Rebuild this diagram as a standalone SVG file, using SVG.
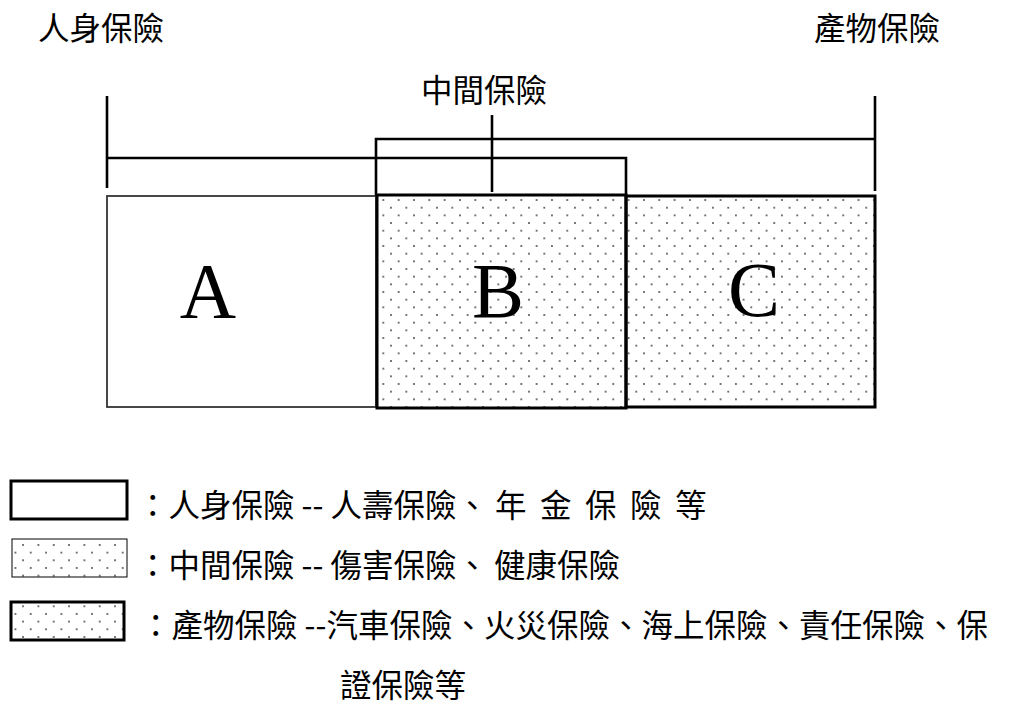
<svg xmlns="http://www.w3.org/2000/svg" width="1016" height="713" viewBox="0 0 1016 713">
<style>
.cjk{font-family:"Noto Sans CJK TC","Noto Sans CJK SC",sans-serif;font-size:31.5px;fill:#000}
.big{font-family:"Liberation Serif","Times New Roman",serif;font-size:78px;fill:#000;text-anchor:middle}
.br{stroke:#000;stroke-width:2.6;fill:none}
</style>
<defs>
<pattern id="dots" patternUnits="userSpaceOnUse" x="379.5" y="196.2" width="15.33" height="15.33">
<circle cx="3.83" cy="3.83" r="0.9" fill="#333"/>
<circle cx="11.5" cy="11.5" r="0.9" fill="#333"/>
</pattern>
</defs>
<rect width="1016" height="713" fill="#fff"/>
<g id="label-person"><text class="cjk" x="38" y="40">人身保險</text></g>
<g id="label-property"><text class="cjk" x="814" y="40">產物保險</text></g>
<g id="label-middle"><text class="cjk" x="421" y="102">中間保險</text></g>
<g id="connectors">
<path class="br" d="M107,96 V188 M107,158 H626 V196"/>
<path class="br" d="M376,196 V139 H875 M875,96 V191"/>
<path class="br" d="M492,115 V192"/>
</g>
<g id="box-A">
<rect x="107" y="196" width="269" height="211" fill="#fff" stroke="#333" stroke-width="1.8"/>
<text class="big" x="208" y="317">A</text>
</g>
<g id="box-C">
<rect x="626" y="196" width="249" height="211" fill="url(#dots)" stroke="#000" stroke-width="3"/>
<text class="big" x="754" y="316">C</text>
</g>
<g id="box-B">
<rect x="377" y="195" width="249" height="213" fill="url(#dots)" stroke="#000" stroke-width="3"/>
<text class="big" x="498" y="317">B</text>
</g>
<g id="legend-1">
<rect x="11" y="481" width="116" height="38" fill="#fff" stroke="#000" stroke-width="3"/>
<text class="cjk" x="137" y="517">：人身保險 -- 人壽保險、<tspan x="495" letter-spacing="13.5">年金保險等</tspan></text>
</g>
<g id="legend-2">
<rect x="12" y="539" width="115" height="38" fill="url(#dots)" stroke="#000" stroke-width="1"/>
<text class="cjk" x="137" y="577">：中間保險 -- 傷害保險、<tspan x="494">健康保險</tspan></text>
</g>
<g id="legend-3">
<rect x="11" y="602" width="113" height="38" fill="url(#dots)" stroke="#000" stroke-width="3"/>
<text class="cjk" x="140" y="637">：產物保險 --汽車保險、火災保險、海上保險、責任保險、保</text>
<text class="cjk" x="340" y="697">證保險等</text>
</g>
</svg>
